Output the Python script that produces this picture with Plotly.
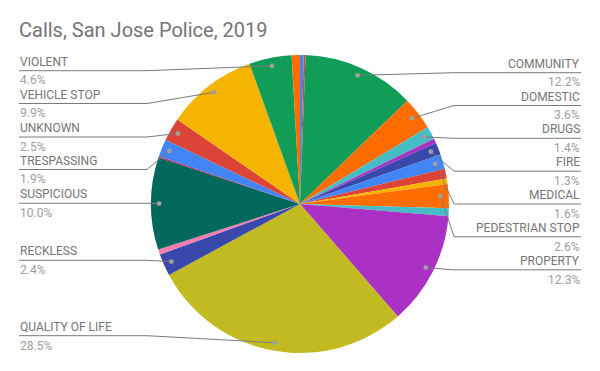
import math
import plotly.graph_objects as go

# ---------------- data (clockwise from 12 o'clock) ----------------
categories = ["Other 1", "Other 2", "COMMUNITY", "DOMESTIC", "DRUGS", "Other 3",
              "FIRE", "MEDICAL", "Other 4", "Other 5", "PEDESTRIAN STOP", "Other 6",
              "PROPERTY", "QUALITY OF LIFE", "RECKLESS", "Other 7", "SUSPICIOUS",
              "Other 8", "TRESPASSING", "UNKNOWN", "VEHICLE STOP", "VIOLENT", "Other 9"]
shares = [0.4, 0.2, 12.2, 3.6, 1.4, 0.5,
          1.3, 1.6, 1.05, 0.6, 2.6, 0.85,
          12.3, 28.5, 2.4, 0.55, 10.0,
          0.15, 1.9, 2.5, 9.9, 4.6, 0.9]
colors = ["#4285F4", "#DB4437", "#0F9D58", "#FF6D00", "#46BDC6", "#AB30C4",
          "#3949AB", "#4285F4", "#DB4437", "#F4B400", "#FF6D00", "#46BDC6",
          "#AB30C4", "#C1BB21", "#3949AB", "#F57CB0", "#00695C",
          "#C2185B", "#4285F4", "#DB4437", "#F4B400", "#0F9D58", "#FF6D00"]
title_text = "Calls, San Jose Police, 2019"

# ---------------- layout constants (screen pixels) ----------------
OFF = 8                      # default page body margin
FW, FH = 600 - 2 * OFF, 371 - 2 * OFF
CX, CY, R = 300.0, 204.0, 149.0
DOT_R = 0.946 * R
LABEL_MIN = 1.2              # slices smaller than this get no label
RIGHT_TEXT_X, RIGHT_ELBOW_X = 581, 454
LEFT_TEXT_X, LEFT_ELBOW_X = 19, 147
RIGHT_LINE_Y = [72.7, 105.5, 138.3, 171.2, 204.0, 236.8, 269.8]
LEFT_LINE_Y = [70.7, 103.5, 137.0, 169.5, 203.3, 260.3, 335.7]
NAME_COLOR, PCT_COLOR, LINE_COLOR, DOT_COLOR = "#757575", "#9E9E9E", "#7A7A7A", "#A0A0A0"
FONT = "Roboto, Arial, sans-serif"


def px(x):
    return (x - OFF) / FW


def py(y):
    return 1 - (y - OFF) / FH


fig = go.Figure(go.Pie(
    labels=categories, values=shares, sort=False, direction="clockwise", rotation=0,
    marker=dict(colors=colors, line=dict(width=0)),
    textinfo="none", hoverinfo="label+percent", showlegend=False,
    domain=dict(x=[px(CX - R), px(CX + R)], y=[py(CY + R), py(CY - R)]),
))

total = sum(shares)
cum = 0.0
right, left = [], []
for name, v in zip(categories, shares):
    mid = (cum + v / 2) / total
    cum += v
    pct = v / total * 100
    if pct < LABEL_MIN:
        continue
    th = 2 * math.pi * mid
    dx, dy = CX + DOT_R * math.sin(th), CY - DOT_R * math.cos(th)
    (right if mid < 0.5 else left).append((name, pct, dx, dy))

shapes, annotations = [], []


def add_label(name, pct, dx, dy, ly, side):
    if side == "right":
        ex, tx, anchor = RIGHT_ELBOW_X, RIGHT_TEXT_X, "right"
    else:
        ex, tx, anchor = LEFT_ELBOW_X, LEFT_TEXT_X, "left"
    path = f"M {px(dx)},{py(dy)} L {px(ex)},{py(ly)} L {px(tx)},{py(ly)}"
    shapes.append(dict(type="path", path=path, xref="paper", yref="paper",
                       line=dict(color=LINE_COLOR, width=1), layer="above"))
    rr = 2.4
    shapes.append(dict(type="circle", xref="paper", yref="paper",
                       x0=px(dx - rr), x1=px(dx + rr), y0=py(dy + rr), y1=py(dy - rr),
                       fillcolor=DOT_COLOR, line=dict(width=0), layer="above"))
    annotations.append(dict(text=name, x=px(tx), y=py(ly - 8.9), xref="paper", yref="paper",
                            xanchor=anchor, yanchor="middle", showarrow=False, borderpad=0,
                            font=dict(family=FONT, size=12, color=NAME_COLOR)))
    annotations.append(dict(text=f"{pct:.1f}%", x=px(tx), y=py(ly + 9.8), xref="paper", yref="paper",
                            xanchor=anchor, yanchor="middle", showarrow=False, borderpad=0,
                            font=dict(family=FONT, size=12, color=PCT_COLOR)))


right.sort(key=lambda t: t[3])
left.sort(key=lambda t: t[3])
for (n, p, dx, dy), ly in zip(right, RIGHT_LINE_Y):
    add_label(n, p, dx, dy, ly, "right")
for (n, p, dx, dy), ly in zip(left, LEFT_LINE_Y):
    add_label(n, p, dx, dy, ly, "left")

fig.update_layout(
    width=FW, height=FH, autosize=False,
    margin=dict(l=0, r=0, t=0, b=0),
    paper_bgcolor="white", plot_bgcolor="white",
    title=dict(text=title_text, x=px(19), xanchor="left", xref="paper",
               y=py(30), yanchor="middle", yref="paper",
               font=dict(family=FONT, size=20, color=NAME_COLOR)),
    shapes=shapes, annotations=annotations,
)

fig.write_html("out.html")
